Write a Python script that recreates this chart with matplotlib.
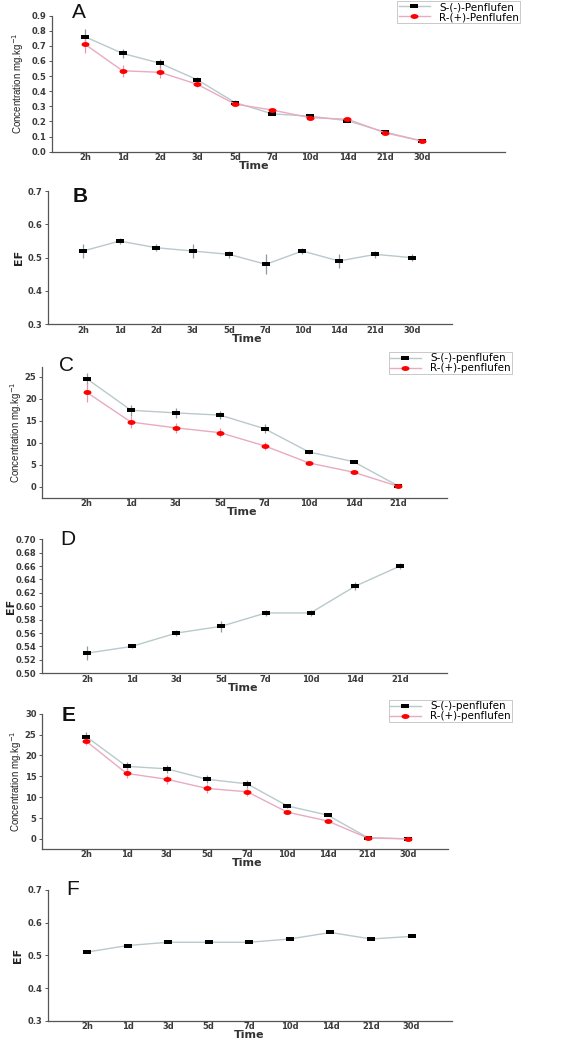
import numpy as np
import matplotlib.pyplot as plt
from matplotlib import font_manager
from matplotlib.lines import Line2D
from matplotlib.transforms import blended_transform_factory

plt.rcParams['font.family'] = ['DejaVu Sans']

# ---- data ----
days_a = ["2h", "1d", "2d", "3d", "5d", "7d", "10d", "14d", "21d", "30d"]
a_s = [0.76, 0.65, 0.585, 0.475, 0.325, 0.25, 0.235, 0.205, 0.13, 0.07]
a_s_err = [0.05, 0.03, 0.03, 0.02, 0.02, 0.01, 0.01, 0.01, 0.01, 0.005]
a_r = [0.71, 0.535, 0.525, 0.445, 0.315, 0.275, 0.225, 0.215, 0.125, 0.07]
a_r_err = [0.06, 0.04, 0.035, 0.02, 0.015, 0.01, 0.01, 0.01, 0.01, 0.005]

b_ef = [0.52, 0.55, 0.53, 0.52, 0.51, 0.48, 0.52, 0.49, 0.51, 0.50]
b_err = [0.02, 0.01, 0.01, 0.02, 0.01, 0.03, 0.01, 0.02, 0.01, 0.01]

days_c = ["2h", "1d", "3d", "5d", "7d", "10d", "14d", "21d"]
c_s = [24.6, 17.4, 16.8, 16.3, 13.2, 7.9, 5.7, 0.2]
c_s_err = [1.3, 1.2, 1.1, 1.0, 1.0, 0.4, 0.3, 0.1]
c_r = [21.5, 14.7, 13.4, 12.3, 9.3, 5.4, 3.3, 0.1]
c_r_err = [2.2, 1.3, 1.1, 1.1, 0.9, 0.3, 0.3, 0.1]

d_ef = [0.53, 0.54, 0.56, 0.57, 0.59, 0.59, 0.63, 0.66]
d_err = [0.01, 0.002, 0.004, 0.008, 0.004, 0.005, 0.006, 0.004]

days_e = ["2h", "1d", "3d", "5d", "7d", "10d", "14d", "21d", "30d"]
e_s = [24.5, 17.4, 16.8, 14.3, 13.2, 7.9, 5.7, 0.3, 0.0]
e_s_err = [1.2, 1.1, 1.0, 1.0, 0.9, 0.4, 0.3, 0.1, 0.0]
e_r = [23.4, 15.7, 14.3, 12.1, 11.3, 6.4, 4.3, 0.2, 0.0]
e_r_err = [1.0, 1.2, 1.1, 1.0, 1.0, 0.4, 0.3, 0.1, 0.0]

f_ef = [0.51, 0.53, 0.54, 0.54, 0.54, 0.55, 0.57, 0.55, 0.558]

S_LINE = '#b9c9cc'
R_LINE = '#eaaabf'
S_ERR = '#8f9a9c'
R_ERR = '#ec94ae'

# wide flat markers (the original looks horizontally stretched)
SQ = [(-1, -0.55), (1, -0.55), (1, 0.55), (-1, 0.55), (-1, -0.55)]
_t = np.linspace(0, 2 * np.pi, 30)
ELL = list(zip(np.cos(_t), 0.62 * np.sin(_t)))
MS = 5.2
EB = dict(ecolor=S_ERR, elinewidth=0.9, capsize=3, capthick=0.9)

installed = {f.name for f in font_manager.fontManager.ttflist}
NARROW = 'Liberation Sans Narrow' if 'Liberation Sans Narrow' in installed else 'Liberation Sans'

fig = plt.figure(figsize=(5.85, 10.39), dpi=100)
FIG_W, FIG_H = 585, 1039


def style(ax, labels, xlim, ylim, yticks, fmt, ylabel, ylab_px, letter, lx, ly=1.0, bold_letter=False):
    ax.set_xlim(*xlim)
    ax.set_ylim(*ylim)
    ax.set_xticks(range(len(labels)))
    ax.set_xticklabels(labels)
    ax.set_yticks(yticks)
    ax.set_yticklabels([fmt.format(v) for v in yticks])
    for s in ['top', 'right']:
        ax.spines[s].set_visible(False)
    for s in ['left', 'bottom']:
        ax.spines[s].set_color('#555555')
        ax.spines[s].set_linewidth(0.9)
    ax.tick_params(axis='x', length=0, labelsize=6, pad=1, colors='#3a3a3a')
    ax.tick_params(axis='y', length=2, width=0.6, labelsize=6, pad=2, colors='#3a3a3a')
    for t in ax.get_xticklabels() + ax.get_yticklabels():
        t.set_fontweight('bold')
    pos = ax.get_position()
    ax.set_xlabel("Time", fontsize=8, fontweight='bold', color='#333333', va='center')
    ax.xaxis.set_label_coords((len(labels) - 1) / 2, -14.5 / (pos.height * FIG_H),
                              transform=blended_transform_factory(ax.transData, ax.transAxes))
    if ylabel == 'EF':
        ax.set_ylabel("EF", fontsize=8, fontweight='bold', color='#222222', va='center')
    else:
        ax.set_ylabel(ylabel, fontsize=7, color='#222222', va='center', family=[NARROW, 'DejaVu Sans'])
    ax.yaxis.set_label_coords((ylab_px - pos.x0 * FIG_W) / (pos.width * FIG_W), 0.5)
    ax.text(lx, ly, letter, transform=ax.transAxes, fontsize=15,
            fontweight='bold' if bold_letter else 'normal', va='center', ha='left',
            color='#111111', family=['Liberation Sans', 'DejaVu Sans'])


def pair(ax, s, s_err, r, r_err, names, anchor):
    x = range(len(s))
    ax.errorbar(x, s, yerr=s_err, color=S_LINE, lw=1, marker=SQ, ms=MS,
                mfc='black', mec='black', mew=0, zorder=3, **EB)
    ax.errorbar(x, r, yerr=r_err, color=R_LINE, lw=1, marker=ELL, ms=MS + 0.5,
                mfc='red', mec='red', mew=0, zorder=3, **dict(EB, ecolor=R_ERR))
    h1 = Line2D([], [], color=S_LINE, lw=1, marker=SQ, ms=MS, mfc='black', mec='black', mew=0)
    h2 = Line2D([], [], color=R_LINE, lw=1, marker=ELL, ms=MS + 0.5, mfc='red', mec='red', mew=0)
    leg = fig.legend([h1, h2], names, loc='upper right', bbox_to_anchor=anchor,
                     fontsize=7.5, frameon=True, fancybox=False, borderpad=0.1,
                     labelspacing=0.0, handlelength=3.0, handletextpad=0.9, borderaxespad=0)
    leg.get_frame().set_edgecolor('#b0b0b0')
    leg.get_frame().set_linewidth(0.6)


def single(ax, ef, err):
    x = range(len(ef))
    ax.errorbar(x, ef, yerr=err, color=S_LINE, lw=1, marker=SQ, ms=MS,
                mfc='black', mec='black', mew=0, zorder=3, **EB)


conc = "Concentration mg.kg$^{-1}$"

# A
ax = fig.add_axes([0.089, 0.854, 0.774, 0.131])
pair(ax, a_s, a_s_err, a_r, a_r_err, ["S-(-)-Penflufen", "R-(+)-Penflufen"], (0.889, 0.999))
style(ax, days_a, (-0.88, 11.2), (0, 0.9), [0.0, 0.1, 0.2, 0.3, 0.4, 0.5, 0.6, 0.7, 0.8, 0.9],
      "{:.1f}", conc, 18, "A", 0.044, ly=1.02)

# B
ax = fig.add_axes([0.082, 0.688, 0.691, 0.128])
single(ax, b_ef, b_err)
style(ax, days_a, (-0.96, 10.1), (0.3, 0.7), [0.3, 0.4, 0.5, 0.6, 0.7],
      "{:.1f}", "EF", 19, "B", 0.062, ly=0.96, bold_letter=True)

# C
ax = fig.add_axes([0.072, 0.521, 0.692, 0.126])
pair(ax, c_s, c_s_err, c_r, c_r_err, ["S-(-)-penflufen", "R-(+)-penflufen"], (0.875, 0.661))
style(ax, days_c, (-1.0, 8.1), (-2.5, 27.3), [0, 5, 10, 15, 20, 25],
      "{:d}", conc, 16, "C", 0.042, ly=1.01)

# D
ax = fig.add_axes([0.072, 0.352, 0.692, 0.129])
single(ax, d_ef, d_err)
style(ax, days_c, (-1.0, 8.05), (0.50, 0.70),
      [0.50, 0.52, 0.54, 0.56, 0.58, 0.60, 0.62, 0.64, 0.66, 0.68, 0.70],
      "{:.2f}", "EF", 11, "D", 0.044)

# E
ax = fig.add_axes([0.072, 0.183, 0.694, 0.130])
pair(ax, e_s, e_s_err, e_r, e_r_err, ["S-(-)-penflufen", "R-(+)-penflufen"], (0.875, 0.326))
style(ax, days_e, (-1.1, 9.0), (-2.4, 30), [0, 5, 10, 15, 20, 25, 30],
      "{:d}", conc, 16, "E", 0.049, ly=0.99, bold_letter=True)

# F
ax = fig.add_axes([0.082, 0.0175, 0.691, 0.126])
ax.plot(range(len(f_ef)), f_ef, color=S_LINE, lw=1, marker=SQ, ms=MS,
        mfc='black', mec='black', mew=0, zorder=3)
style(ax, days_e, (-0.96, 9.0), (0.3, 0.7), [0.3, 0.4, 0.5, 0.6, 0.7],
      "{:.1f}", "EF", 18, "F", 0.045)

fig.savefig("out.png", dpi=100)
